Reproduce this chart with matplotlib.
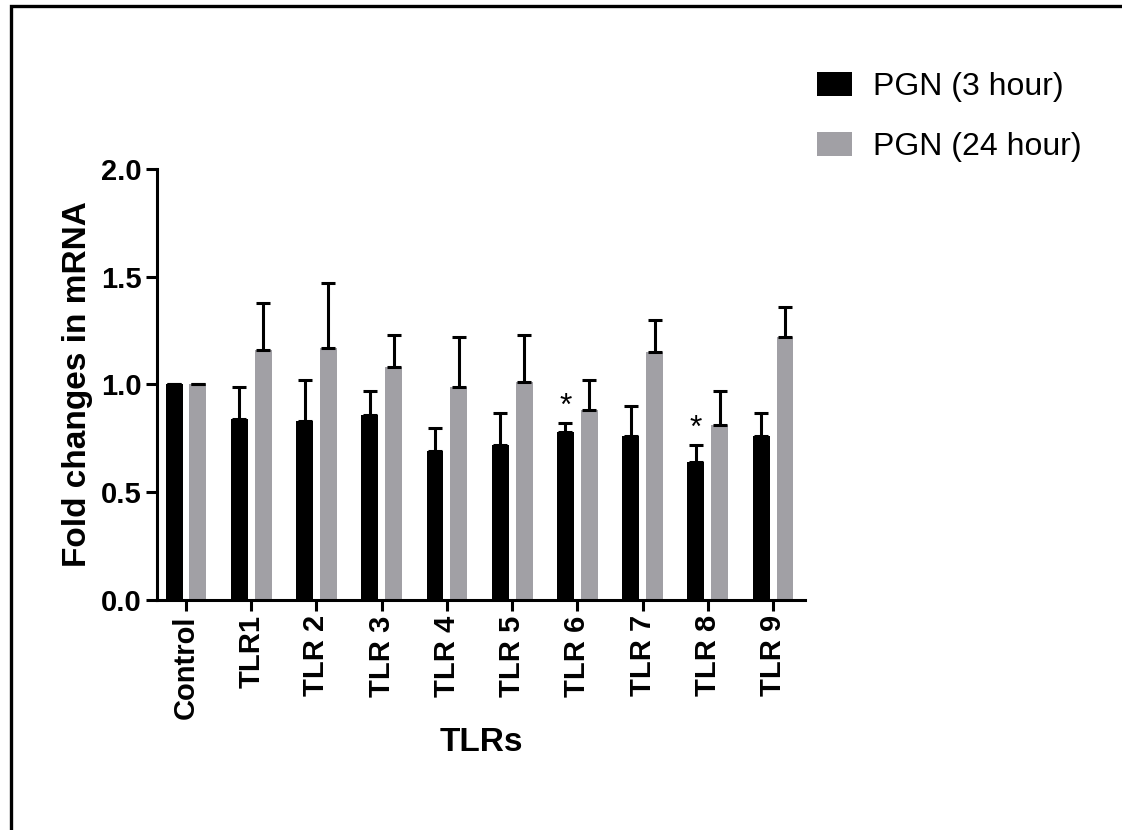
import matplotlib.pyplot as plt
import matplotlib.patches as mpatches
import numpy as np

plt.rcParams['font.family'] = ['Liberation Sans', 'DejaVu Sans']

categories = ['Control', 'TLR1', 'TLR 2', 'TLR 3', 'TLR 4', 'TLR 5', 'TLR 6', 'TLR 7', 'TLR 8', 'TLR 9']
pgn_3h = [1.00, 0.84, 0.83, 0.86, 0.69, 0.72, 0.78, 0.76, 0.64, 0.76]
pgn_3h_err = [0.00, 0.15, 0.19, 0.11, 0.11, 0.15, 0.04, 0.14, 0.08, 0.11]
pgn_24h = [1.00, 1.16, 1.17, 1.08, 0.99, 1.01, 0.88, 1.15, 0.81, 1.22]
pgn_24h_err = [0.00, 0.22, 0.30, 0.15, 0.23, 0.22, 0.14, 0.15, 0.16, 0.14]
significant_3h = ['TLR 6', 'TLR 8']

fig = plt.figure(figsize=(11.22, 8.30), dpi=100, facecolor='white')
ax = fig.add_axes([0.1399, 0.2771, 0.5776, 0.5193])

x = np.arange(len(categories))
w = 0.26
off = 0.183
gray = '#a1a0a5'

ax.bar(x - off, pgn_3h, w, color='black', label='PGN (3 hour)', zorder=2)
ax.bar(x + off, pgn_24h, w, color=gray, label='PGN (24 hour)', zorder=2)

ekw = dict(fmt='none', ecolor='black', elinewidth=2.2, capsize=5, capthick=2.2, zorder=3)
ax.errorbar(x - off, pgn_3h, yerr=[np.zeros(len(x)), pgn_3h_err], **ekw)
ax.errorbar(x + off, pgn_24h, yerr=[np.zeros(len(x)), pgn_24h_err], **ekw)

# significance marks
for i, c in enumerate(categories):
    if c in significant_3h:
        ax.text(x[i] - off, pgn_3h[i] + pgn_3h_err[i] + 0.005, '*', ha='center', va='bottom',
                fontsize=23, color='black')

ax.set_xlim(-0.445, 9.49)
ax.set_ylim(0, 2.0)
ax.set_yticks([0.0, 0.5, 1.0, 1.5, 2.0])
ax.set_yticklabels(['0.0', '0.5', '1.0', '1.5', '2.0'], fontsize=21, fontweight='bold')
ax.set_xticks(x)
ax.set_xticklabels(categories, rotation=90, fontsize=21, fontweight='bold')

for s in ['top', 'right']:
    ax.spines[s].set_visible(False)
for s in ['left', 'bottom']:
    ax.spines[s].set_linewidth(2.2)
ax.tick_params(axis='both', width=2.2, length=8, direction='out', pad=3)

ax.set_ylabel('Fold changes in mRNA', fontsize=24, fontweight='bold', labelpad=6)
ax.set_xlabel('TLRs', fontsize=24, fontweight='bold', labelpad=6)

fig.legend(loc='upper left', bbox_to_anchor=(817 / 1122, 1 - 72 / 830), frameon=False,
           fontsize=23, handlelength=1.1, handleheight=0.8, handletextpad=0.65,
           labelspacing=0.92, borderpad=0, borderaxespad=0)

# outer frame (left and top only, as cropped in the reference)
fig.add_artist(mpatches.Rectangle((10.5 / 1122, -0.1), 1.2, 1 - 6.5 / 830 + 0.1,
                                  transform=fig.transFigure, fill=False,
                                  edgecolor='black', linewidth=2.4, clip_on=False))

fig.savefig('out.png', dpi=100, facecolor='white')
